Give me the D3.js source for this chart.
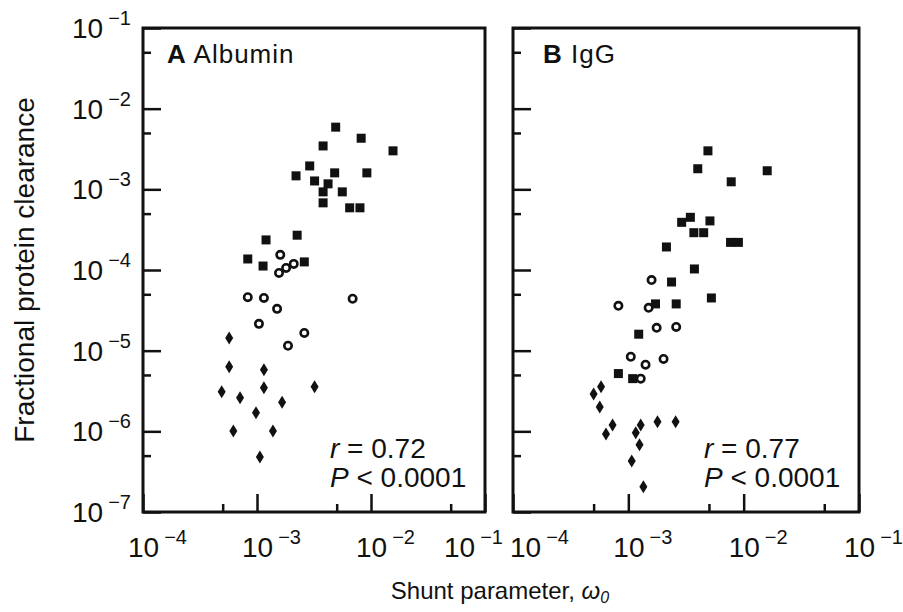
<!DOCTYPE html>
<html>
<head>
<meta charset="utf-8">
<script src="https://cdn.jsdelivr.net/npm/d3@7"></script>
<style>
  body { margin: 0; background: #fff; }
  svg { font-family: "Liberation Sans", Arial, sans-serif; }
</style>
</head>
<body>
<div id="chart"></div>
<script>
// tick values
const xMajor = [1e-4, 1e-3, 1e-2, 1e-1];
const xMinor = [5e-4, 5e-3, 5e-2];
const xExp = ["\u22124", "\u22123", "\u22122", "\u22121"];
const yMajor = [1e-1, 1e-2, 1e-3, 1e-4, 1e-5, 1e-6, 1e-7];
const yMinor = [5e-2, 5e-3, 5e-4, 5e-5, 5e-6, 5e-7];
const yExp = ["\u22121", "\u22122", "\u22123", "\u22124", "\u22125", "\u22126", "\u22127"];

// A Albumin  [shunt parameter, clearance]
const albSquares = [
  [4.9e-3, 5.9e-3], [8.2e-3, 4.3e-3], [3.8e-3, 3.45e-3], [2.9e-3, 1.95e-3], [2.2e-3, 1.47e-3],
  [4.8e-3, 1.6e-3], [9.2e-3, 1.6e-3], [3.2e-3, 1.27e-3], [4.2e-3, 1.17e-3], [3.8e-3, 9.3e-4],
  [5.6e-3, 9.3e-4], [3.8e-3, 6.8e-4], [6.5e-3, 5.9e-4], [8.0e-3, 5.9e-4], [1.56e-2, 3.0e-3],
  [2.25e-3, 2.7e-4], [1.2e-3, 2.36e-4], [8.3e-4, 1.37e-4], [1.13e-3, 1.12e-4], [2.6e-3, 1.26e-4]
];
const albCircles = [
  [1.6e-3, 1.54e-4], [2.1e-3, 1.19e-4], [1.8e-3, 1.06e-4], [1.56e-3, 9.2e-5], [8.3e-4, 4.6e-5],
  [1.15e-3, 4.5e-5], [1.5e-3, 3.3e-5], [6.9e-3, 4.4e-5], [1.04e-3, 2.15e-5], [2.6e-3, 1.66e-5],
  [1.87e-3, 1.15e-5]
];
const albDiamonds = [
  [5.7e-4, 1.44e-5], [5.7e-4, 6.3e-6], [1.15e-3, 5.8e-6], [1.15e-3, 3.46e-6], [3.2e-3, 3.56e-6],
  [4.9e-4, 3.1e-6], [7.1e-4, 2.6e-6], [1.66e-3, 2.3e-6], [9.8e-4, 1.7e-6], [6.2e-4, 1.01e-6],
  [1.38e-3, 1.01e-6], [1.06e-3, 4.8e-7]
];

// B IgG
const iggSquares = [
  [4.9e-3, 3.0e-3], [4.0e-3, 1.8e-3], [1.6e-2, 1.7e-3], [7.8e-3, 1.24e-3], [3.45e-3, 4.5e-4],
  [2.9e-3, 3.9e-4], [5.1e-3, 4.06e-4], [3.7e-3, 2.9e-4], [4.5e-3, 2.9e-4], [7.7e-3, 2.2e-4],
  [9.0e-3, 2.2e-4], [2.14e-3, 1.93e-4], [3.74e-3, 1.03e-4], [2.37e-3, 7.1e-5], [5.25e-3, 4.5e-5],
  [2.6e-3, 3.8e-5], [1.72e-3, 3.8e-5], [1.23e-3, 1.6e-5], [8.2e-4, 5.2e-6], [1.09e-3, 4.5e-6]
];
const iggCircles = [
  [1.59e-3, 7.5e-5], [8.2e-4, 3.6e-5], [1.5e-3, 3.4e-5], [1.76e-3, 1.92e-5], [2.6e-3, 1.97e-5],
  [1.05e-3, 8.4e-6], [1.41e-3, 6.7e-6], [2.02e-3, 7.9e-6], [1.28e-3, 4.5e-6]
];
const iggDiamonds = [
  [5.8e-4, 3.56e-6], [5.0e-4, 2.9e-6], [5.65e-4, 2.0e-6], [7.3e-4, 1.2e-6], [6.4e-4, 9.3e-7],
  [1.28e-3, 1.2e-6], [1.16e-3, 9.6e-7], [1.25e-3, 6.8e-7], [1.79e-3, 1.31e-6], [2.57e-3, 1.31e-6],
  [1.07e-3, 4.3e-7], [1.35e-3, 2.05e-7]
];

const panels = [
  { letter: "A", name: " Albumin", r: "0.72", left: 143, right: 485, yLabels: true, titleX: 24,
    squares: albSquares, circles: albCircles, diamonds: albDiamonds, shift: [0, 0, 0, -26] },
  { letter: "B", name: " IgG", r: "0.77", left: 513, right: 859, yLabels: false, titleX: 30,
    squares: iggSquares, circles: iggCircles, diamonds: iggDiamonds, shift: [12, 0, 0, 0] }
];

const W = 903, H = 612, plotTop = 28, plotBottom = 512;
const svg = d3.select("#chart").append("svg").attr("width", W).attr("height", H);

const y = d3.scaleLog().domain([1e-7, 1e-1]).range([plotBottom, plotTop]);

// "10" with a raised exponent
const powerLabel = (sel, exp) => {
  sel.append("tspan").text("10");
  sel.append("tspan").attr("dx", 5).attr("dy", -13).style("font-size", "20px").text(exp);
};

panels.forEach(p => {
  const x = d3.scaleLog().domain([1e-4, 1e-1]).range([p.left, p.right]);
  const g = svg.append("g");

  // inward ticks
  const ticks = (axis, tr) => {
    const a = g.append("g").attr("transform", tr).call(axis);
    a.select(".domain").remove();
    a.selectAll("line").attr("stroke", "#111").attr("stroke-width", 2.5);
  };
  ticks(d3.axisLeft(y).tickValues(yMajor).tickSize(-18).tickFormat(""), `translate(${p.left},0)`);
  ticks(d3.axisLeft(y).tickValues(yMinor).tickSize(-8).tickFormat(""), `translate(${p.left},0)`);
  ticks(d3.axisBottom(x).tickValues(xMajor).tickSize(-18).tickFormat(""), `translate(0,${plotBottom})`);
  ticks(d3.axisBottom(x).tickValues(xMinor).tickSize(-8).tickFormat(""), `translate(0,${plotBottom})`);

  // frame
  g.append("rect")
    .attr("x", p.left).attr("y", plotTop)
    .attr("width", p.right - p.left).attr("height", plotBottom - plotTop)
    .attr("fill", "none").attr("stroke", "#111").attr("stroke-width", 3);

  // x tick labels
  xMajor.forEach((v, i) => {
    g.append("text")
      .attr("x", x(v) - 15 + p.shift[i]).attr("y", plotBottom + 45)
      .style("font-size", "28px").attr("fill", "#111")
      .call(powerLabel, xExp[i]);
  });

  // y tick labels
  if (p.yLabels) {
    yMajor.forEach((v, i) => {
      g.append("text")
        .attr("x", p.left - 12).attr("y", y(v) + 10)
        .attr("text-anchor", "end")
        .style("font-size", "28px").attr("fill", "#111")
        .call(powerLabel, yExp[i]);
    });
  }

  // points
  g.selectAll("rect.sq").data(p.squares).enter().append("rect")
    .attr("class", "sq")
    .attr("x", d => x(d[0]) - 4.5).attr("y", d => y(d[1]) - 4.5)
    .attr("width", 9).attr("height", 9).attr("fill", "#111");

  g.selectAll("circle.ci").data(p.circles).enter().append("circle")
    .attr("class", "ci")
    .attr("cx", d => x(d[0])).attr("cy", d => y(d[1])).attr("r", 3.7)
    .attr("fill", "#fff").attr("stroke", "#111").attr("stroke-width", 2.6);

  g.selectAll("path.di").data(p.diamonds).enter().append("path")
    .attr("class", "di")
    .attr("transform", d => `translate(${x(d[0])},${y(d[1])})`)
    .attr("d", "M0,-6.5L4,0L0,6.5L-4,0Z").attr("fill", "#111");

  // panel title
  const title = g.append("text")
    .attr("x", p.left + p.titleX).attr("y", 63)
    .style("font-size", "26px").style("letter-spacing", "1px").attr("fill", "#111");
  title.append("tspan").style("font-weight", "bold").text(p.letter);
  title.append("tspan").text(p.name);

  // statistics
  const sx = p.right - 155;
  const r = g.append("text").attr("x", sx).attr("y", 458)
    .style("font-size", "28px").attr("fill", "#111");
  r.append("tspan").style("font-style", "italic").text("r");
  r.append("tspan").text(" = " + p.r);
  const pp = g.append("text").attr("x", sx).attr("y", 487)
    .style("font-size", "28px").attr("fill", "#111");
  pp.append("tspan").style("font-style", "italic").text("P");
  pp.append("tspan").text(" < 0.0001");
});

// axis titles
svg.append("text")
  .attr("transform", "translate(34,270) rotate(-90)")
  .attr("text-anchor", "middle")
  .style("font-size", "28px").attr("fill", "#111")
  .text("Fractional protein clearance");

const xt = svg.append("text")
  .attr("x", 500).attr("y", 599)
  .attr("text-anchor", "middle")
  .style("font-size", "24px").attr("fill", "#111");
xt.append("tspan").text("Shunt parameter, ");
xt.append("tspan").style("font-style", "italic").text("\u03c9");
xt.append("tspan").style("font-style", "italic").style("font-size", "16px").attr("dy", 4).text("0");
</script>
</body>
</html>
